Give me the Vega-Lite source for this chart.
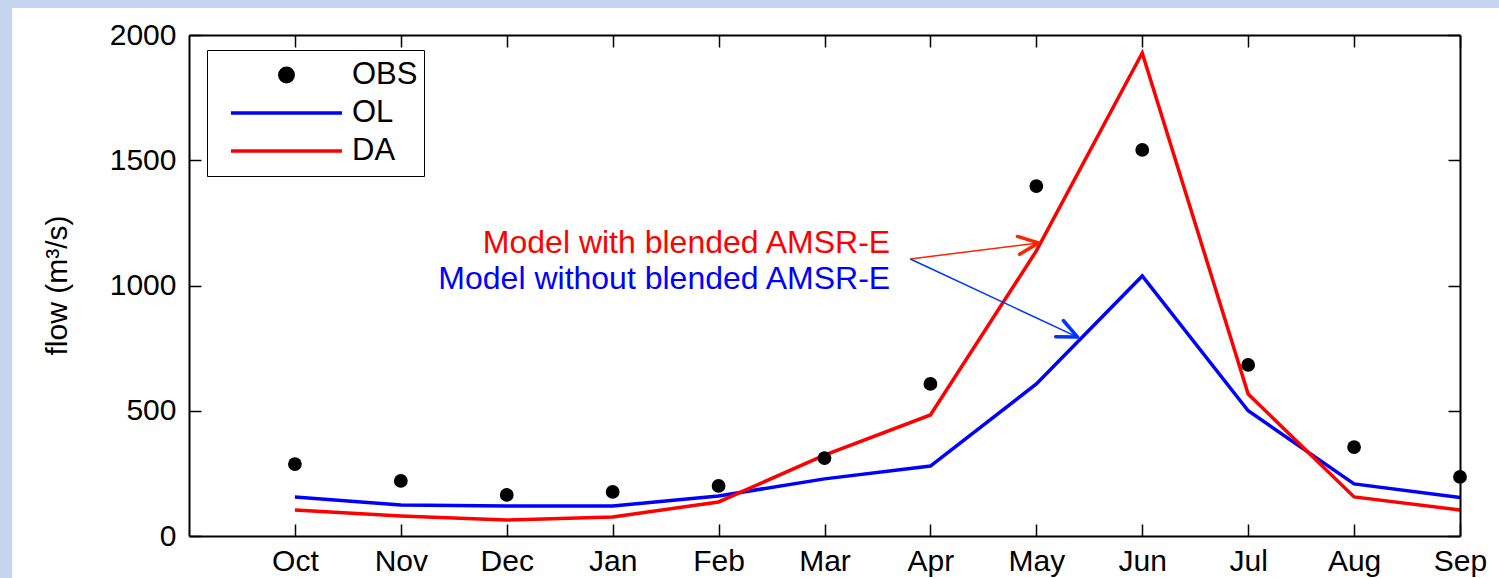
{
  "$schema": "https://vega.github.io/schema/vega-lite/v6.json",
  "width": 1271,
  "height": 501,
  "autosize": {"type": "none"},
  "padding": {"left": 189, "top": 35, "right": 39, "bottom": 42},
  "background": "#c4d4ef",
  "config": {
    "view": {"stroke": null},
    "axis": {
      "zindex": 1,
      "grid": false,
      "domainColor": "black",
      "domainWidth": 2,
      "tickColor": "black",
      "tickWidth": 1.5,
      "labelColor": "black",
      "labelFont": "Liberation Sans",
      "labelFontSize": 30,
      "titleFont": "Liberation Sans",
      "titleColor": "black"
    }
  },
  "data": {
    "values": [
      {"m": 1, "month": "Oct", "obs": 287, "ol": 156, "da": 104},
      {"m": 2, "month": "Nov", "obs": 220, "ol": 124, "da": 80},
      {"m": 3, "month": "Dec", "obs": 164, "ol": 120, "da": 64},
      {"m": 4, "month": "Jan", "obs": 176, "ol": 120, "da": 76},
      {"m": 5, "month": "Feb", "obs": 200, "ol": 160, "da": 136},
      {"m": 6, "month": "Mar", "obs": 311, "ol": 228, "da": 323},
      {"m": 7, "month": "Apr", "obs": 607, "ol": 279, "da": 483},
      {"m": 8, "month": "May", "obs": 1397, "ol": 607, "da": 1138},
      {"m": 9, "month": "Jun", "obs": 1541, "ol": 1038, "da": 1928},
      {"m": 10, "month": "Jul", "obs": 683, "ol": 500, "da": 567},
      {"m": 11, "month": "Aug", "obs": 355, "ol": 208, "da": 156},
      {"m": 12, "month": "Sep", "obs": 236, "ol": 154, "da": 104}
    ]
  },
  "resolve": {"axis": {"x": "independent", "y": "independent"}},
  "layer": [
    {
      "data": {"values": [{"xa": -1.67, "xb": 14, "ya": -600, "yb": 2108}]},
      "mark": {"type": "rect", "fill": "white", "clip": false, "zindex": 0},
      "encoding": {
        "x": {"field": "xa", "type": "quantitative", "scale": {"domain": [0, 12]}, "axis": null},
        "x2": {"field": "xb"},
        "y": {"field": "ya", "type": "quantitative", "scale": {"domain": [0, 2000]}, "axis": null},
        "y2": {"field": "yb"}
      }
    },
    {
      "mark": {"type": "line", "strokeWidth": 3.5},
      "encoding": {
        "x": {
          "field": "m", "type": "quantitative",
          "axis": {
            "orient": "bottom", "title": null, "zindex": 2,
            "values": [1, 2, 3, 4, 5, 6, 7, 8, 9, 10, 11, 12],
            "labelExpr": "['','Oct','Nov','Dec','Jan','Feb','Mar','Apr','May','Jun','Jul','Aug','Sep'][datum.value]",
            "tickSize": -12, "labelPadding": 22, "labelFlush": false, "labelOverlap": false
          }
        },
        "y": {
          "field": "ol", "type": "quantitative",
          "axis": {
            "orient": "left", "zindex": 2, "format": "d",
            "values": [0, 500, 1000, 1500, 2000],
            "tickSize": -12, "labelPadding": 25, "labelFlush": false, "labelOverlap": false,
            "title": "flow (m³/s)",
            "titleFontSize": 30, "titleFontWeight": "normal",
            "titleAngle": 270, "titleX": -132, "titleY": 250,
            "titleAlign": "center", "titleBaseline": "middle"
          }
        },
        "color": {
          "datum": "OL", "type": "nominal",
          "scale": {"domain": ["OBS", "OL", "DA"], "range": ["black", "#0000ff", "#ff0000"]},
          "legend": {
            "orient": "none", "legendX": 18, "legendY": 15,
            "title": null,
            "strokeColor": "black", "fillColor": "white",
            "padding": 6,
            "labelFont": "Liberation Sans", "labelFontSize": 31, "labelColor": "black",
            "symbolSize": 12321, "symbolStrokeWidth": 3.5,
            "symbolOffset": 16, "labelOffset": 40,
            "clipHeight": 38, "rowPadding": 0,
            "encode": {
              "labels": {
                "update": {
                  "dx": {"value": -32}
                }
              },
              "symbols": {
                "update": {
                  "shape": {"signal": "datum.value === 'OBS' ? 'circle' : 'stroke'"},
                  "size": {"signal": "datum.value === 'OBS' ? 180 : 12321"},
                  "fill": {"signal": "datum.value === 'OBS' ? 'black' : 'transparent'"},
                  "stroke": {"signal": "datum.value === 'OL' ? '#0000ff' : (datum.value === 'DA' ? '#ff0000' : 'transparent')"},
                  "strokeWidth": {"value": 3.5},
                  "opacity": {"value": 1}
                }
              }
            }
          }
        }
      }
    },
    {
      "mark": {"type": "line", "strokeWidth": 3.5},
      "encoding": {
        "x": {"field": "m", "type": "quantitative", "axis": null},
        "y": {"field": "da", "type": "quantitative", "axis": null},
        "color": {"datum": "DA", "type": "nominal"}
      }
    },
    {
      "mark": {"type": "point", "filled": true, "size": 190, "opacity": 1, "shape": "circle"},
      "encoding": {
        "x": {
          "field": "m", "type": "quantitative",
          "axis": {"orient": "top", "title": null, "labels": false, "zindex": 2, "values": [1, 2, 3, 4, 5, 6, 7, 8, 9, 10, 11, 12], "tickSize": -12}
        },
        "y": {
          "field": "obs", "type": "quantitative",
          "axis": {"orient": "right", "title": null, "labels": false, "zindex": 2, "values": [0, 500, 1000, 1500, 2000], "tickSize": -12}
        },
        "color": {"datum": "OBS", "type": "nominal"}
      }
    },
    {
      "data": {"values": [
        {"series": "DA", "xa": 6.81, "ya": 1106, "xb": 8.02, "yb": 1170},
        {"series": "OL", "xa": 6.81, "ya": 1106, "xb": 8.39, "yb": 794}
      ]},
      "layer": [
        {
          "mark": {"type": "rule", "strokeWidth": 1.5},
          "encoding": {
            "x": {"field": "xa", "type": "quantitative", "axis": null},
            "y": {"field": "ya", "type": "quantitative", "axis": null},
            "x2": {"field": "xb"},
            "y2": {"field": "yb"},
            "stroke": {"field": "series", "type": "nominal", "scale": {"domain": ["DA", "OL"], "range": ["#ff2200", "#0033ff"]}, "legend": null}
          }
        },
        {
          "mark": {"type": "point", "shape": "M-1,-0.45L0,0L-1,0.45", "filled": false, "size": 1600, "strokeWidth": 3.5, "opacity": 1, "strokeCap": "round", "strokeJoin": "round"},
          "encoding": {
            "x": {"field": "xb", "type": "quantitative", "axis": null},
            "y": {"field": "yb", "type": "quantitative", "axis": null},
            "angle": {"field": "series", "type": "nominal", "scale": {"domain": ["DA", "OL"], "range": [353, 25]}, "legend": null},
            "stroke": {"field": "series", "type": "nominal", "legend": null}
          }
        }
      ]
    },
    {
      "data": {"values": [
        {"series": "DA", "label": "Model with blended AMSR-E", "xa": 6.62, "ya": 1130},
        {"series": "OL", "label": "Model without blended AMSR-E", "xa": 6.62, "ya": 986}
      ]},
      "mark": {"type": "text", "align": "right", "baseline": "alphabetic", "font": "Liberation Sans", "fontSize": 32},
      "encoding": {
        "x": {"field": "xa", "type": "quantitative", "axis": null},
        "y": {"field": "ya", "type": "quantitative", "axis": null},
        "text": {"field": "label"},
        "fill": {"field": "series", "type": "nominal", "scale": {"domain": ["DA", "OL"], "range": ["#ff0000", "#0000ff"]}, "legend": null}
      }
    }
  ]
}
